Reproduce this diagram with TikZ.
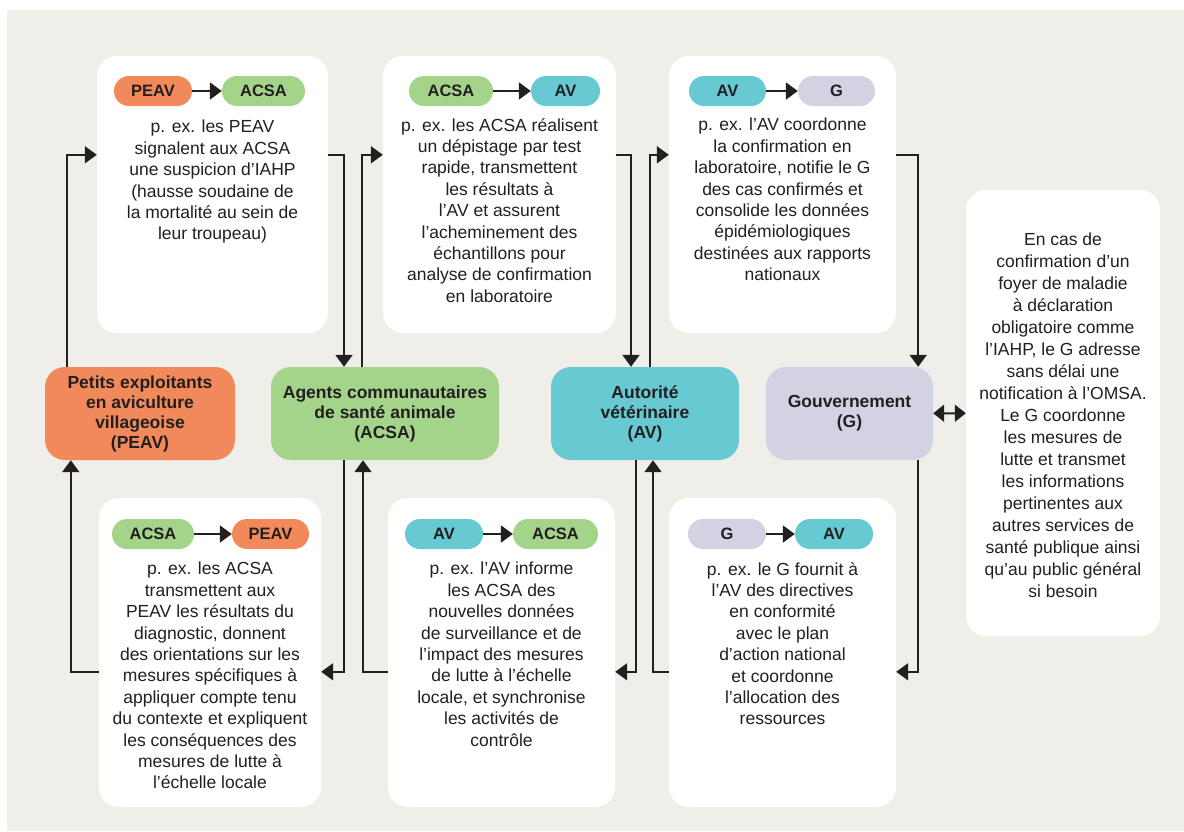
\documentclass[tikz,border=0pt]{standalone}
\usepackage{fontspec}
\setmainfont{Liberation Sans}
\usetikzlibrary{arrows.meta,calc}
\definecolor{bgc}{RGB}{239,238,233}
\definecolor{peavc}{RGB}{242,137,91}
\definecolor{acsac}{RGB}{163,212,138}
\definecolor{avc}{RGB}{103,201,209}
\definecolor{gc}{RGB}{211,210,227}
\definecolor{ink}{RGB}{35,31,32}

\begin{document}
\begin{tikzpicture}[x=1pt,y=-1pt,
  card/.style={fill=white,rounded corners=20pt,inner sep=0pt},
  actor/.style={rounded corners=20pt,align=center,text=ink,inner sep=0pt,minimum height=93pt,
    font=\fontsize{17.5}{20}\selectfont\bfseries},
  tag/.style={rounded corners=15pt,text=ink,inner sep=0pt,minimum height=30pt,
    font=\fontsize{16.5}{18}\selectfont\bfseries},
  txt/.style={align=center,text=ink,inner sep=0pt,anchor=north,font=\fontsize{17.5}{21.4}\selectfont},
  flow/.style={draw=ink,line width=2pt,-{Triangle[length=12pt,width=17pt]}},
]
\fill[white] (0,0) rectangle (1184,831);
\fill[bgc] (7,10) rectangle (1184,831);

% cards
\node[card,minimum width=231pt,minimum height=277pt] (c1) at (212.5,194.5) {};
\node[card,minimum width=233pt,minimum height=277pt] (c2) at (499.5,194.5) {};
\node[card,minimum width=227pt,minimum height=277pt] (c3) at (782.5,194.5) {};
\node[card,minimum width=222pt,minimum height=309pt] (c4) at (210,652.5) {};
\node[card,minimum width=227pt,minimum height=309pt] (c5) at (501.5,652.5) {};
\node[card,minimum width=227pt,minimum height=309pt] (c6) at (782.5,652.5) {};
\node[card,minimum width=194pt,minimum height=446pt] (c7) at (1063,413) {};

% actors
\node[actor,fill=peavc,minimum width=190pt] (peav) at (140,413.5) {Petits exploitants\\en aviculture\\villageoise\\(PEAV)};
\node[actor,fill=acsac,minimum width=228pt] (acsa) at (385,413.5) {Agents communautaires\\de santé animale\\(ACSA)};
\node[actor,fill=avc,minimum width=188pt] (av) at (645,413.5) {Autorité\\vétérinaire\\(AV)};
\node[actor,fill=gc,minimum width=167pt] (gov) at (849.5,413.5) {Gouvernement\\(G)};

% tags
\node[tag,fill=peavc,minimum width=78pt] (t1a) at (153,91) {PEAV};
\node[tag,fill=acsac,minimum width=83pt] (t1b) at (263.5,91) {ACSA};
\node[tag,fill=acsac,minimum width=84pt] (t2a) at (451,91) {ACSA};
\node[tag,fill=avc,minimum width=69pt] (t2b) at (565.5,91) {AV};
\node[tag,fill=avc,minimum width=77pt] (t3a) at (727.5,91) {AV};
\node[tag,fill=gc,minimum width=77pt] (t3b) at (836.5,91) {G};
\node[tag,fill=acsac,minimum width=82pt] (t4a) at (153,534) {ACSA};
\node[tag,fill=peavc,minimum width=77pt] (t4b) at (270.5,534) {PEAV};
\node[tag,fill=avc,minimum width=78pt] (t5a) at (444,534) {AV};
\node[tag,fill=acsac,minimum width=85pt] (t5b) at (555.5,534) {ACSA};
\node[tag,fill=gc,minimum width=78pt] (t6a) at (727,534) {G};
\node[tag,fill=avc,minimum width=78pt] (t6b) at (834,534) {AV};
\foreach \i in {1,...,6}
  \draw[flow] (t\i a) -- (t\i b);

% texts
\node[txt] (x1) at (212.5,120) {p. ex. les PEAV\\signalent aux ACSA\\une suspicion d’IAHP\\(hausse soudaine de\\la mortalité au sein de\\leur troupeau)};
\node[txt] (x2) at (499.5,118) {p. ex. les ACSA réalisent\\un dépistage par test\\rapide, transmettent\\les résultats à\\l’AV et assurent\\l’acheminement des\\échantillons pour\\analyse de confirmation\\en laboratoire};
\node[txt] (x3) at (782.5,118) {p. ex. l’AV coordonne\\la confirmation en\\laboratoire, notifie le G\\des cas confirmés et\\consolide les données\\épidémiologiques\\destinées aux rapports\\nationaux};
\node[txt] (x4) at (210,562) {p. ex. les ACSA\\transmettent aux\\PEAV les résultats du\\diagnostic, donnent\\des orientations sur les\\mesures spécifiques à\\appliquer compte tenu\\du contexte et expliquent\\les conséquences des\\mesures de lutte à\\l’échelle locale};
\node[txt] (x5) at (501.5,562) {p. ex. l’AV informe\\les ACSA des\\nouvelles données\\de surveillance et de\\l’impact des mesures\\de lutte à l’échelle\\locale, et synchronise\\les activités de\\contrôle};
\node[txt] (x6) at (782.5,562) {p. ex. le G fournit à\\l’AV des directives\\en conformité\\avec le plan\\d’action national\\et coordonne\\l’allocation des\\ressources};
\node[txt,font=\fontsize{17.5}{22}\selectfont] (x7) at (1063,233) {En cas de\\confirmation d’un\\foyer de maladie\\à déclaration\\obligatoire comme\\l’IAHP, le G adresse\\sans délai une\\notification à l’OMSA.\\Le G coordonne\\les mesures de\\lutte et transmet\\les informations\\pertinentes aux\\autres services de\\santé publique ainsi\\qu’au public général\\si besoin};

% top row
\draw[flow] ($(peav.north west)+(22,0)$) |- ($(c1.north west)+(0,99)$);
\draw[flow] ($(c1.north east)+(0,99)$) -| ($(acsa.north)+(-41,0)$);
\draw[flow] ($(acsa.north)+(-23,0)$) |- ($(c2.north west)+(0,99)$);
\draw[flow] ($(c2.north east)+(0,99)$) -| ($(av.north)+(-14,0)$);
\draw[flow] ($(av.north)+(5,0)$) |- ($(c3.north west)+(0,99)$);
\draw[flow] ($(c3.north east)+(0,99)$) -| ($(gov.north east)+(-15,0)$);
% bottom row
\draw[flow] ($(gov.south east)+(-15,0)$) |- ($(c6.north east)+(0,174)$);
\draw[flow] ($(c6.north west)+(0,174)$) -| ($(av.south)+(8,0)$);
\draw[flow] ($(av.south)+(-9,0)$) |- ($(c5.north east)+(0,174)$);
\draw[flow] ($(c5.north west)+(0,174)$) -| ($(acsa.south)+(-22,0)$);
\draw[flow] ($(acsa.south)+(-41,0)$) |- ($(c4.north east)+(0,174)$);
\draw[flow] ($(c4.north west)+(0,174)$) -| ($(peav.south west)+(26,0)$);
% government and the outside
\draw[flow,{Triangle[length=11pt,width=17pt]}-{Triangle[length=11pt,width=17pt]}] (gov) -- (c7);
\end{tikzpicture}
\end{document}
